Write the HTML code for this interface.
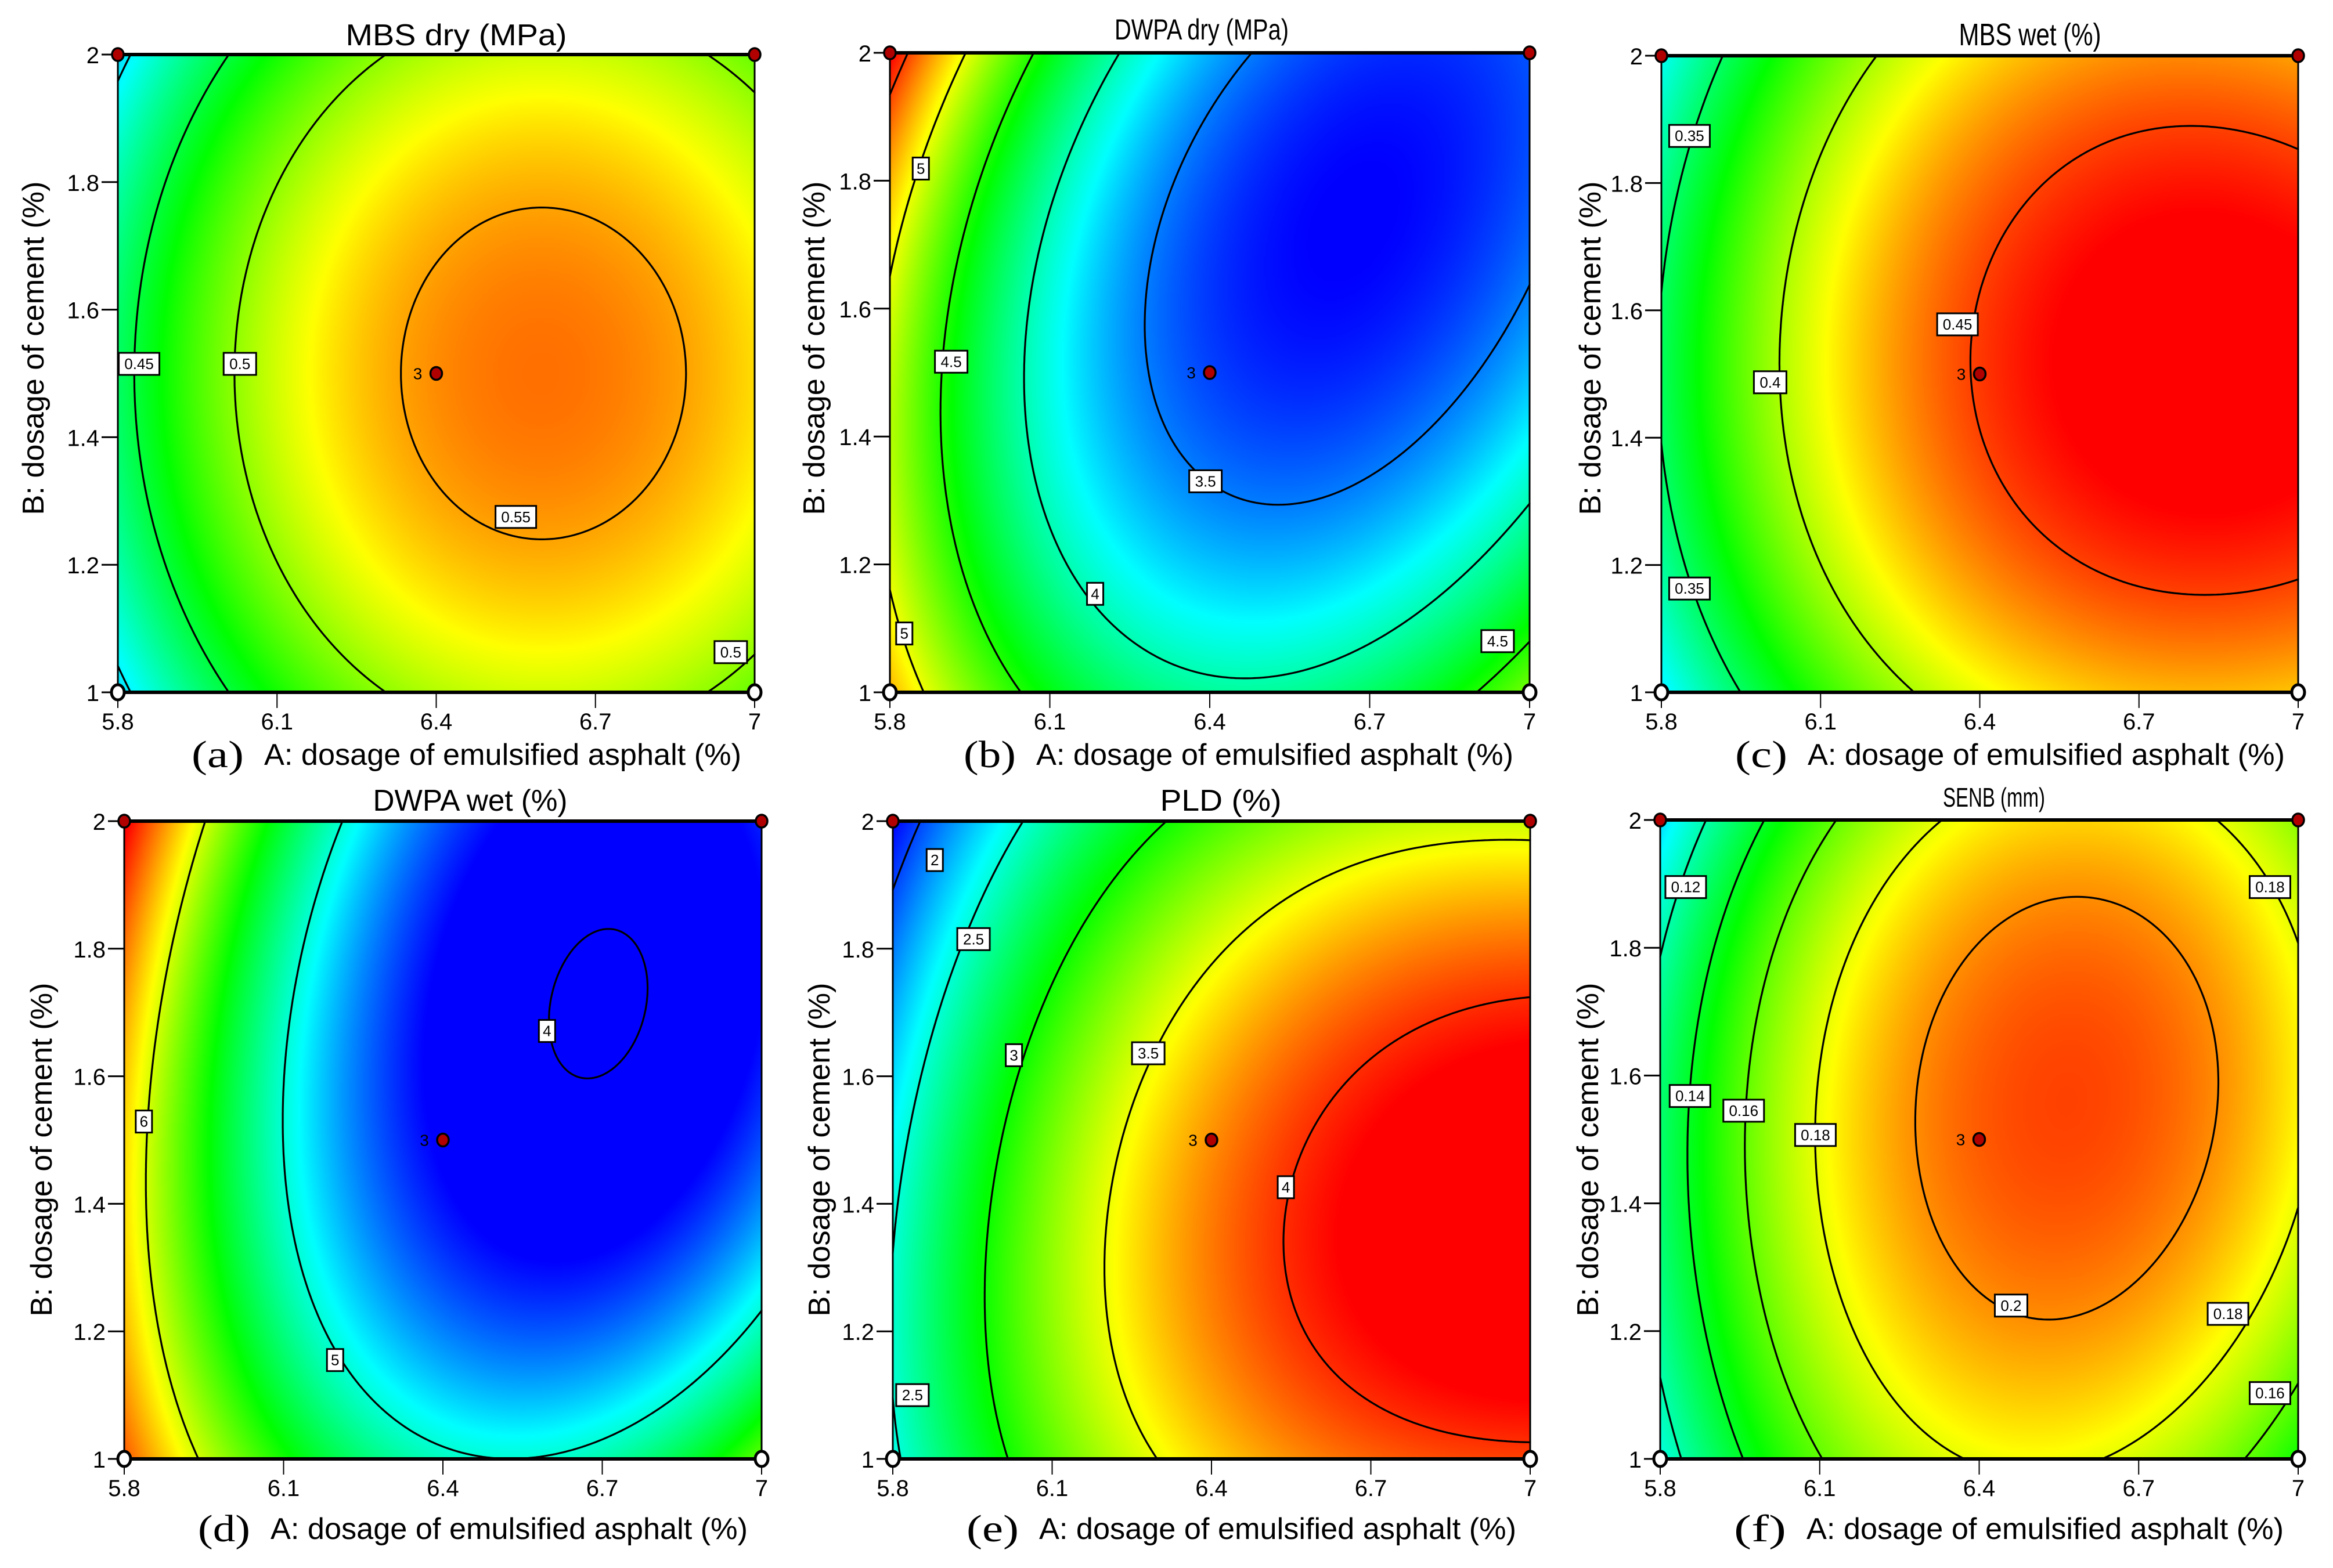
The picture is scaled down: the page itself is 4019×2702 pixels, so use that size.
<!DOCTYPE html>
<html><head><meta charset="utf-8">
<style>
body{margin:0;background:#fff}
#root{position:relative;width:4019px;height:2702px;overflow:hidden;background:#fff}
canvas{position:absolute}
#ov{position:absolute;left:0;top:0}
</style></head>
<body>
<div id="root">
<svg id="ov" width="4019" height="2702" xmlns="http://www.w3.org/2000/svg"></svg>
</div>
<script>
// ---------- shared axis data ----------
const gridA=[5.8,6.0,6.2,6.4,6.6,6.8,7.0];
const gridB=[2.0,1.75,1.5,1.25,1.0];
const tickA=[5.8,6.1,6.4,6.7,7];
const tickALabels=['5.8','6.1','6.4','6.7','7'];
const tickB=[1,1.2,1.4,1.6,1.8,2];
const tickBLabels=['1','1.2','1.4','1.6','1.8','2'];
const designA=[5.8,7.0,5.8,7.0,6.4];
const designB=[2,2,1,1,1.5];
const designFill=['red','red','white','white','red'];
const designCount=['','','','','3'];

// ---------- (a) MBS dry ----------
const surfMBSdry=[
[0.39,0.45,0.485,0.51,0.52,0.505,0.49],
[0.43,0.485,0.52,0.542,0.551,0.545,0.525],
[0.44,0.495,0.532,0.556,0.563,0.556,0.535],
[0.43,0.485,0.52,0.542,0.551,0.545,0.525],
[0.39,0.45,0.485,0.51,0.52,0.505,0.49]];
const levelsMBSdry=[0.4,0.45,0.5,0.55];
const rangeMBSdry=[0.34,0.59];
const labelTextMBSdry=['0.45','0.5','0.55','0.5'];
const labelAMBSdry=[5.84,6.03,6.55,6.955];
const labelBMBSdry=[1.515,1.515,1.275,1.063];

// ---------- (b) DWPA dry ----------
const surfDWPAdry=[
[5.65,4.8,4.07,3.6,3.35,3.3,3.4],
[5.2,4.35,3.72,3.35,3.22,3.25,3.45],
[4.75,4.1,3.62,3.38,3.3,3.38,3.6],
[4.97,4.3,3.95,3.6,3.53,3.7,4.12],
[5.25,4.55,4.2,4.03,4.05,4.45,4.68]];
const levelsDWPAdry=[3.5,4,4.5,5,5.5];
const rangeDWPAdry=[3.2,5.65];
const labelTextDWPAdry=['5','4.5','5','3.5','4','4.5'];
const labelADWPAdry=[5.858,5.915,5.827,6.392,6.185,6.94];
const labelBDWPAdry=[1.819,1.517,1.092,1.33,1.154,1.08];

// ---------- (c) MBS wet ----------
const surfMBSwet=[
[0.33,0.365,0.395,0.418,0.432,0.437,0.435],
[0.34,0.39,0.425,0.447,0.459,0.462,0.458],
[0.345,0.4,0.43,0.452,0.465,0.47,0.465],
[0.34,0.39,0.422,0.443,0.455,0.458,0.455],
[0.325,0.355,0.385,0.41,0.425,0.43,0.428]];
const levelsMBSwet=[0.35,0.4,0.45];
const rangeMBSwet=[0.275,0.462];
const labelTextMBSwet=['0.35','0.45','0.4','0.35'];
const labelAMBSwet=[5.853,6.358,6.005,5.853];
const labelBMBSwet=[1.874,1.578,1.487,1.163];

// ---------- (d) DWPA wet ----------
const surfDWPAwet=[
[6.7,5.85,5.0,4.45,4.2,4.2,4.35],
[6.4,5.6,4.75,4.25,3.9,4.0,4.4],
[6.1,5.25,4.7,4.35,4.15,4.12,4.3],
[6.25,5.55,4.85,4.5,4.35,4.6,5.05],
[6.55,5.75,5.3,5.05,5.05,5.25,5.7]];
const levelsDWPAwet=[4,5,6];
const rangeDWPAwet=[4.3,6.7];
const labelTextDWPAwet=['6','4','5'];
const labelADWPAwet=[5.837,6.596,6.197];
const labelBDWPAwet=[1.529,1.671,1.155];

// ---------- (e) PLD ----------
const surfPLD=[
[1.85,2.4,2.85,3.1,3.28,3.38,3.45],
[2.1,2.8,3.2,3.55,3.78,3.9,3.95],
[2.45,3.0,3.4,3.75,4.03,4.2,4.25],
[2.55,3.05,3.48,3.82,4.07,4.18,4.22],
[2.45,2.95,3.35,3.65,3.82,3.92,3.96]];
const levelsPLD=[2,2.5,3,3.5,4];
const rangePLD=[1.85,4.1];
const labelTextPLD=['2','2.5','3','3.5','4','2.5'];
const labelAPLD=[5.879,5.952,6.028,6.281,6.54,5.837];
const labelBPLD=[1.939,1.815,1.633,1.636,1.426,1.1];

// ---------- (f) SENB ----------
const surfSENB=[
[0.105,0.138,0.165,0.183,0.19,0.185,0.168],
[0.122,0.16,0.19,0.203,0.207,0.2,0.178],
[0.128,0.168,0.2,0.208,0.21,0.204,0.18],
[0.122,0.158,0.185,0.198,0.2,0.195,0.176],
[0.115,0.148,0.168,0.183,0.18,0.166,0.148]];
const levelsSENB=[0.1,0.12,0.14,0.16,0.18,0.2];
const rangeSENB=[0.07,0.221];
const labelTextSENB=['0.12','0.14','0.16','0.18','0.2','0.18','0.18','0.16'];
const labelASENB=[5.848,5.856,5.957,6.092,6.46,6.947,6.868,6.947];
const labelBSENB=[1.895,1.568,1.545,1.507,1.24,1.895,1.227,1.103];

// ---------- layout (positions only) ----------
const layout=[
{key:'a',name:'mbs-dry',title:'MBS dry (MPa)',letter:'(a)',L:203,R:1300,T:94,B:1193,titleX:786,titleY:78,titleW:381,titleFs:52,yTitleX:58,yTitleY:600,xTitleDy:125,
 surf:surfMBSdry,levels:levelsMBSdry,range:rangeMBSdry,lt:labelTextMBSdry,la:labelAMBSdry,lb:labelBMBSdry},
{key:'b',name:'dwpa-dry',title:'DWPA dry (MPa)',letter:'(b)',L:1533,R:2635,T:91,B:1193,titleX:2070,titleY:68,titleW:300,titleFs:50,yTitleX:1403,yTitleY:600,xTitleDy:125,
 surf:surfDWPAdry,levels:levelsDWPAdry,range:rangeDWPAdry,lt:labelTextDWPAdry,la:labelADWPAdry,lb:labelBDWPAdry},
{key:'c',name:'mbs-wet',title:'MBS wet (%)',letter:'(c)',L:2862,R:3959,T:96,B:1193,titleX:3497,titleY:78,titleW:245,titleFs:54,yTitleX:2740,yTitleY:600,xTitleDy:125,
 surf:surfMBSwet,levels:levelsMBSwet,range:rangeMBSwet,lt:labelTextMBSwet,la:labelAMBSwet,lb:labelBMBSwet},
{key:'d',name:'dwpa-wet',title:'DWPA wet (%)',letter:'(d)',L:214,R:1312,T:1415,B:2514,titleX:810,titleY:1397,titleW:335,titleFs:52,yTitleX:72,yTitleY:1981,xTitleDy:138,
 surf:surfDWPAwet,levels:levelsDWPAwet,range:rangeDWPAwet,lt:labelTextDWPAwet,la:labelADWPAwet,lb:labelBDWPAwet},
{key:'e',name:'pld',title:'PLD (%)',letter:'(e)',L:1538,R:2636,T:1415,B:2514,titleX:2103,titleY:1397,titleW:209,titleFs:52,yTitleX:1412,yTitleY:1981,xTitleDy:138,
 surf:surfPLD,levels:levelsPLD,range:rangePLD,lt:labelTextPLD,la:labelAPLD,lb:labelBPLD},
{key:'f',name:'senb',title:'SENB (mm)',letter:'(f)',L:2860,R:3959,T:1413,B:2514,titleX:3435,titleY:1390,titleW:176,titleFs:46,yTitleX:2736,yTitleY:1981,xTitleDy:138,
 surf:surfSENB,levels:levelsSENB,range:rangeSENB,lt:labelTextSENB,la:labelASENB,lb:labelBSENB}
];

const ov=document.getElementById('ov');
const root=document.getElementById('root');
const svgNS='http://www.w3.org/2000/svg';
const FONT='"Liberation Sans", sans-serif';
function mk(tag,attrs,parent){const e=document.createElementNS(svgNS,tag);for(const k in attrs)e.setAttribute(k,attrs[k]);(parent||ov).appendChild(e);return e;}

const aMin=tickA[0],aMax=tickA[tickA.length-1],bMin=tickB[0],bMax=tickB[tickB.length-1];
function xs(p,A){return p.L+(A-aMin)/(aMax-aMin)*(p.R-p.L);}
function ys(p,B){return p.B-(B-bMin)/(bMax-bMin)*(p.B-p.T);}

function basis(A,B){const x=(A-6.4)/0.6,y=(B-1.5)/0.5;return [1,x,y,x*x,x*y,y*y,x*x*x,x*x*y,x*y*y,y*y*y];}
function fitSurface(g){
 const n=10;const M=[];for(let i=0;i<n;i++){M.push(new Array(n+1).fill(0));}
 for(let r=0;r<gridB.length;r++)for(let c=0;c<gridA.length;c++){
  const b=basis(gridA[c],gridB[r]);const v=g[r][c];
  for(let i=0;i<n;i++){for(let j=0;j<n;j++)M[i][j]+=b[i]*b[j];M[i][n]+=b[i]*v;}}
 for(let i=0;i<n;i++){let piv=i;for(let k=i+1;k<n;k++)if(Math.abs(M[k][i])>Math.abs(M[piv][i]))piv=k;
  const tmp=M[i];M[i]=M[piv];M[piv]=tmp;
  for(let k=0;k<n;k++){if(k===i)continue;const f=M[k][i]/M[i][i];for(let j=i;j<=n;j++)M[k][j]-=f*M[i][j];}}
 return M.map((row,i)=>row[n]/row[i]);}
function evalSurf(coef,A,B){const b=basis(A,B);let s=0;for(let i=0;i<b.length;i++)s+=coef[i]*b[i];return s;}

const stops=[[0,0,255],[0,255,255],[0,255,0],[255,255,0],[255,0,0]];
function ramp(t){t=Math.max(0,Math.min(1,t))*4;const k=Math.min(3,Math.floor(t)),f=t-k;const a=stops[k],b=stops[k+1];
 return [a[0]+(b[0]-a[0])*f,a[1]+(b[1]-a[1])*f,a[2]+(b[2]-a[2])*f];}

function buildPanel(p){
 const W=p.R-p.L,H=p.B-p.T;
 const coef=fitSurface(p.surf);
 const g=mk('g',{});
 
 
 const cv=document.createElement('canvas');
 
 
 const cw=Math.ceil(W/3),chh=Math.ceil(H/3);
 cv.width=cw;cv.height=chh;
 cv.style.left=p.L+'px';cv.style.top=p.T+'px';cv.style.width=W+'px';cv.style.height=H+'px';
 root.insertBefore(cv,ov);
 const ctx=cv.getContext('2d');const img=ctx.createImageData(cw,chh);
 for(let jj=0;jj<chh;jj++){const B=bMax-(jj+0.5)/chh*(bMax-bMin);
  for(let ii=0;ii<cw;ii++){const A=aMin+(ii+0.5)/cw*(aMax-aMin);
   const val=evalSurf(coef,A,B);const c=ramp((val-p.range[0])/(p.range[1]-p.range[0]));
   const o=(jj*cw+ii)*4;img.data[o]=c[0];img.data[o+1]=c[1];img.data[o+2]=c[2];img.data[o+3]=255;}}
 ctx.putImageData(img,0,0);
 const st=4,nx=Math.ceil(W/st),ny=Math.ceil(H/st);
 const F=[];
 for(let j=0;j<=ny;j++){const row=[];const py=Math.min(j*st,H);const B=bMax-py/H*(bMax-bMin);
  for(let i=0;i<=nx;i++){const px=Math.min(i*st,W);row.push(evalSurf(coef,aMin+px/W*(aMax-aMin),B));}F.push(row);}
 const PX=i=>p.L+Math.min(i*st,W),PY=j=>p.T+Math.min(j*st,H);
 p.levels.forEach(lv=>{
  let d='';
  for(let j=0;j<ny;j++)for(let i=0;i<nx;i++){
   const a=F[j][i]-lv,b=F[j][i+1]-lv,c=F[j+1][i+1]-lv,e=F[j+1][i]-lv;
   const pts=[];
   const x0=PX(i),x1=PX(i+1),y0=PY(j),y1=PY(j+1);
   if((a<0)!==(b<0))pts.push([x0+(x1-x0)*a/(a-b),y0]);
   if((b<0)!==(c<0))pts.push([x1,y0+(y1-y0)*b/(b-c)]);
   if((e<0)!==(c<0))pts.push([x0+(x1-x0)*e/(e-c),y1]);
   if((a<0)!==(e<0))pts.push([x0,y0+(y1-y0)*a/(a-e)]);
   for(let k=0;k+1<pts.length;k+=2)d+='M'+pts[k][0].toFixed(1)+' '+pts[k][1].toFixed(1)+'L'+pts[k+1][0].toFixed(1)+' '+pts[k+1][1].toFixed(1);
  }
  if(d){const path=mk('path',{d:d,stroke:'#000','stroke-width':3.2,fill:'none','stroke-linecap':'round'},g);
   
   }
 });
 const br=mk('rect',{x:p.L,y:p.T,width:W,height:H,fill:'none',stroke:'#000','stroke-width':3},g);
 
 
 const topLine=mk('line',{x1:p.L,y1:p.T,x2:p.R,y2:p.T,stroke:'#000','stroke-width':6},g);
 
 
 const botLine=mk('line',{x1:p.L,y1:p.B,x2:p.R,y2:p.B,stroke:'#000','stroke-width':6},g);
 
 
 tickA.forEach((v,k)=>{const x=xs(p,v);
  const tl=mk('line',{x1:x,y1:p.B,x2:x,y2:p.B+27,stroke:'#000','stroke-width':2},g);
  
  
  const tx=mk('text',{x:x,y:p.B+64,'font-size':40,'font-family':FONT,'text-anchor':'middle',fill:'#000'},g);
  tx.textContent=tickALabels[k];
  
  });
 tickB.forEach((v,k)=>{const y=ys(p,v);
  const tl=mk('line',{x1:p.L-28,y1:y,x2:p.L,y2:y,stroke:'#000','stroke-width':3},g);
  
  
  const tx=mk('text',{x:p.L-32,y:y+15,'font-size':40,'font-family':FONT,'text-anchor':'end',fill:'#000'},g);
  tx.textContent=tickBLabels[k];
  
  });
 p.lt.forEach((txt,k)=>{const x=xs(p,p.la[k]),y=ys(p,p.lb[k]);const w=txt.length*14+14;
  const bg=mk('g',{},g);
  
  
  mk('rect',{x:x-w/2,y:y-19,width:w,height:38,fill:'#fff',stroke:'#000','stroke-width':3},bg);
  const t=mk('text',{x:x,y:y+9,'font-size':26,'font-family':FONT,'text-anchor':'middle',fill:'#000'},bg);
  t.textContent=txt;});
 designA.forEach((a,k)=>{const x=xs(p,a),y=ys(p,designB[k]);
  const c=mk('ellipse',{cx:x,cy:y,rx:designFill[k]==='white'?11:10,ry:designFill[k]==='white'?13:11,fill:designFill[k]==='white'?'#fff':'#b00000',stroke:'#000','stroke-width':designFill[k]==='white'?5:3.5},g);
  
  
  if(designCount[k]){const t=mk('text',{x:x-32,y:y+10,'font-size':28,'font-family':FONT,'text-anchor':'middle',fill:'#000'},g);
   t.textContent=designCount[k];
   
   }});
 const tt=mk('text',{x:p.titleX,y:p.titleY,'font-size':p.titleFs,'font-family':FONT,'text-anchor':'middle',textLength:p.titleW,lengthAdjust:'spacingAndGlyphs',fill:'#000'},g);
 tt.textContent=p.title;
 
 
 const lt=mk('text',{x:p.L+127,y:p.B+p.xTitleDy+4,'font-size':66,'font-family':'"Liberation Serif", serif',textLength:90,lengthAdjust:'spacingAndGlyphs',fill:'#000'},g);
 lt.textContent=p.letter;
 
 
 const xt=mk('text',{x:p.L+252,y:p.B+p.xTitleDy,'font-size':52,'font-family':FONT,textLength:822,lengthAdjust:'spacingAndGlyphs',fill:'#000'},g);
 xt.textContent='A: dosage of emulsified asphalt (%)';
 
 
 const yt=mk('text',{x:0,y:0,'font-size':52,'font-family':FONT,'text-anchor':'middle','dominant-baseline':'central',textLength:575,lengthAdjust:'spacingAndGlyphs',fill:'#000',transform:'translate('+p.yTitleX+','+p.yTitleY+') rotate(-90)'},g);
 yt.textContent='B: dosage of cement (%)';
 
 
}
layout.forEach(buildPanel);
</script>
</body></html>
